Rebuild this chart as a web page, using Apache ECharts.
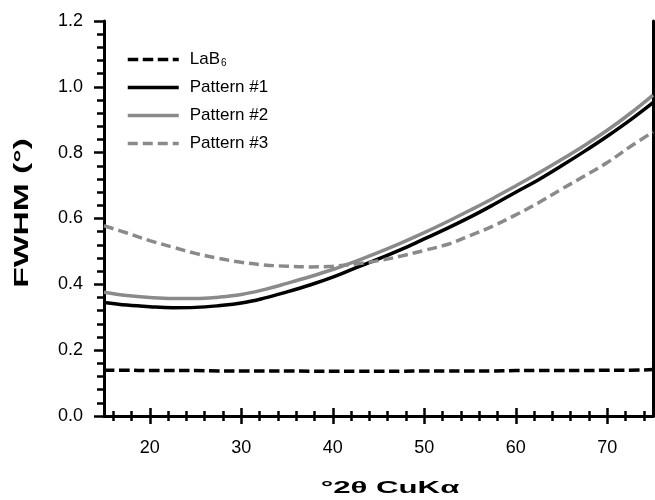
<!DOCTYPE html>
<html>
<head>
<meta charset="utf-8">
<script src="https://cdn.jsdelivr.net/npm/echarts@6/dist/echarts.min.js"></script>
<style>
html,body{margin:0;padding:0;background:#fff;}
#chart{width:655px;height:500px;}
</style>
</head>
<body>
<div id="chart"></div>
<script>
const twoTheta = [15, 17.5, 20, 22.5, 25, 27.5, 30, 32.5, 35, 37.5, 40, 42.5, 45, 47.5, 50, 52.5, 55, 57.5, 60, 62.5, 65, 67.5, 70, 72.5, 75];
const lab6     = [0.139, 0.139, 0.138, 0.138, 0.138, 0.137, 0.137, 0.137, 0.137, 0.136, 0.136, 0.136, 0.136, 0.136, 0.137, 0.137, 0.137, 0.137, 0.138, 0.138, 0.138, 0.138, 0.139, 0.139, 0.141];
const pattern1 = [0.345, 0.337, 0.332, 0.329, 0.330, 0.335, 0.343, 0.358, 0.377, 0.398, 0.422, 0.450, 0.477, 0.506, 0.538, 0.570, 0.604, 0.641, 0.680, 0.718, 0.760, 0.804, 0.850, 0.899, 0.952];
const pattern2 = [0.376, 0.366, 0.360, 0.357, 0.357, 0.361, 0.369, 0.384, 0.403, 0.423, 0.445, 0.470, 0.497, 0.526, 0.557, 0.590, 0.625, 0.661, 0.699, 0.738, 0.779, 0.822, 0.868, 0.919, 0.975];
const pattern3 = [0.578, 0.556, 0.533, 0.513, 0.494, 0.479, 0.467, 0.459, 0.455, 0.453, 0.455, 0.462, 0.472, 0.486, 0.503, 0.521, 0.548, 0.577, 0.611, 0.648, 0.689, 0.729, 0.770, 0.818, 0.863];
const seriesNames = ['LaB6', 'Pattern #1', 'Pattern #2', 'Pattern #3'];
const xMajorTicks = [20, 30, 40, 50, 60, 70];
const xMinorTicks = [16, 18, 22, 24, 26, 28, 32, 34, 36, 38, 42, 44, 46, 48, 52, 54, 56, 58, 62, 64, 66, 68, 72, 74];
const xTitle = '°2θ CuKα';
const yTitle = 'FWHM (°)';

const pairs = ys => twoTheta.map((x, i) => [x, ys[i]]);
const FONT = 'Liberation Sans, Arial, sans-serif';
const GRID = {left: 104, right: 2, top: 21, bottom: 84};

const chart = echarts.init(document.getElementById('chart'), null, {renderer: 'canvas'});
const xBase = {type: 'value', min: 15, max: 75, splitLine: {show: false}};
const yBase = {type: 'value', min: 0, max: 1.2, interval: 0.2, splitLine: {show: false}};
const tickStyle = {color: '#000', width: 2.5};

chart.setOption({
  backgroundColor: '#fff',
  animation: false,
  grid: [Object.assign({}, GRID), Object.assign({}, GRID)],
  xAxis: [
    Object.assign({}, xBase, {gridIndex: 0, position: 'bottom',
      axisLine: {show: true, lineStyle: {color: '#000', width: 3}},
      axisTick: {show: true, customValues: xMajorTicks, length: 8, lineStyle: tickStyle},
      axisLabel: {show: true, customValues: xMajorTicks, color: '#000', fontSize: 18, fontFamily: FONT, margin: 23}}),
    Object.assign({}, xBase, {gridIndex: 0, position: 'top',
      axisLine: {show: true, lineStyle: {color: '#000', width: 3}},
      axisTick: {show: true, customValues: xMajorTicks, length: 8, lineStyle: tickStyle},
      axisLabel: {show: false}}),
    Object.assign({}, xBase, {gridIndex: 1, position: 'bottom',
      axisLine: {show: false},
      axisTick: {show: true, customValues: xMinorTicks, length: 5, lineStyle: tickStyle},
      axisLabel: {show: false}}),
    Object.assign({}, xBase, {gridIndex: 1, position: 'top',
      axisLine: {show: false},
      axisTick: {show: true, customValues: xMinorTicks, length: 5, lineStyle: tickStyle},
      axisLabel: {show: false}})
  ],
  yAxis: [
    Object.assign({}, yBase, {gridIndex: 0, position: 'left',
      axisLine: {show: true, lineStyle: {color: '#000', width: 3}},
      axisTick: {show: true, length: 10, lineStyle: tickStyle},
      minorTick: {show: true, splitNumber: 5, length: 7, lineStyle: tickStyle},
      axisLabel: {show: true, color: '#000', fontSize: 18, fontFamily: FONT, margin: 21,
        formatter: v => v.toFixed(1)}}),
    Object.assign({}, yBase, {gridIndex: 0, position: 'right',
      axisLine: {show: true, lineStyle: {color: '#000', width: 3}},
      axisTick: {show: false}, axisLabel: {show: false}}),
    Object.assign({}, yBase, {gridIndex: 1, position: 'left', show: false}),
    Object.assign({}, yBase, {gridIndex: 1, position: 'right', show: false})
  ],
  legend: {
    orient: 'vertical', left: 121, top: 46,
    itemWidth: 51, itemHeight: 14, itemGap: 11,
    data: seriesNames,
    itemStyle: {opacity: 0},
    lineStyle: {width: 3.5},
    formatter: n => n === 'LaB6' ? 'LaB{sub|6}' : n,
    textStyle: {color: '#000', fontSize: 17, lineHeight: 17, fontFamily: FONT, padding: [0, 0, 0, 6],
      rich: {sub: {fontSize: 10, lineHeight: 8, verticalAlign: 'bottom', fontFamily: FONT, color: '#000', padding: [0, 0, 0, 1]}}}
  },
  series: [
    {name: seriesNames[0], type: 'line', xAxisIndex: 0, yAxisIndex: 0, data: pairs(lab6),
      smooth: 0.4, symbol: 'none', lineStyle: {color: '#000', width: 3.5, type: [10.5, 4.5]}, itemStyle: {color: '#000'}},
    {name: seriesNames[1], type: 'line', xAxisIndex: 0, yAxisIndex: 0, data: pairs(pattern1),
      smooth: 0.4, symbol: 'none', lineStyle: {color: '#000', width: 3.5}, itemStyle: {color: '#000'}},
    {name: seriesNames[2], type: 'line', xAxisIndex: 0, yAxisIndex: 0, data: pairs(pattern2),
      smooth: 0.4, symbol: 'none', lineStyle: {color: '#8a8a8a', width: 3.5}, itemStyle: {color: '#8a8a8a'}},
    {name: seriesNames[3], type: 'line', xAxisIndex: 0, yAxisIndex: 0, data: pairs(pattern3),
      smooth: 0.4, symbol: 'none', lineStyle: {color: '#8a8a8a', width: 3.5, type: [10, 5]}, itemStyle: {color: '#8a8a8a'}}
  ],
  graphic: [
    {type: 'text', x: 390, y: 489, scaleX: 1.95,
      style: {text: xTitle, fontSize: 16, fontWeight: 'bold', fontFamily: FONT, fill: '#000', align: 'center', verticalAlign: 'middle'}},
    {type: 'text', x: 22, y: 213, rotation: Math.PI / 2, scaleX: 1.6,
      style: {text: yTitle, fontSize: 21, fontWeight: 'bold', fontFamily: FONT, fill: '#000', align: 'center', verticalAlign: 'middle'}}
  ]
});
</script>
</body>
</html>
